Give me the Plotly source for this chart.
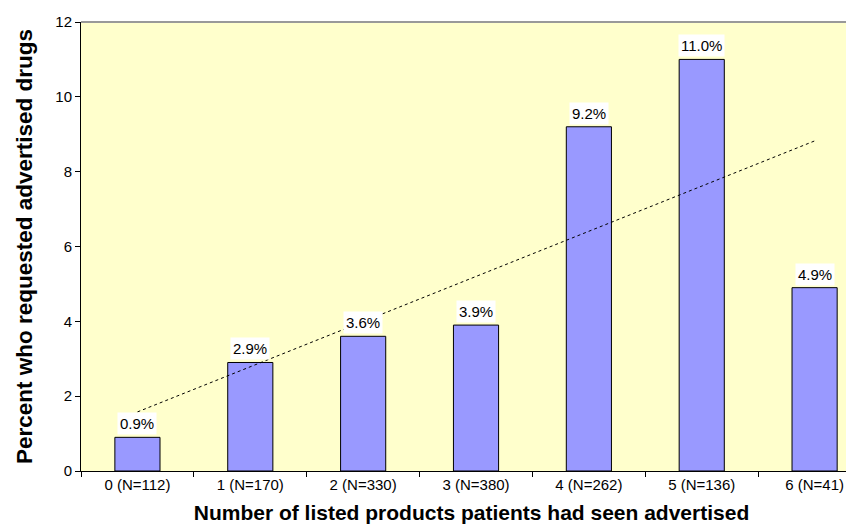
import numpy as np
import plotly.graph_objects as go

categories = ["0 (N=112)", "1 (N=170)", "2 (N=330)", "3 (N=380)", "4 (N=262)", "5 (N=136)", "6 (N=41)"]
values = [0.9, 2.9, 3.6, 3.9, 9.2, 11.0, 4.9]
labels = ["0.9%", "2.9%", "3.6%", "3.9%", "9.2%", "11.0%", "4.9%"]
y_ticks = [0, 2, 4, 6, 8, 10, 12]

# linear trendline fitted to the data
xi = np.arange(len(values))
slope, intercept = np.polyfit(xi, values, 1)
trend = intercept + slope * xi

fig = go.Figure()
fig.add_trace(go.Bar(
    x=categories, y=values, width=0.4,
    marker=dict(color="#9999FF", line=dict(color="black", width=1)),
    hoverinfo="skip",
))
fig.add_trace(go.Scatter(
    x=[categories[0], categories[-1]], y=[trend[0], trend[-1]],
    mode="lines", line=dict(color="black", width=1, dash="dot"),
    hoverinfo="skip",
))
for c, v, t in zip(categories, values, labels):
    fig.add_annotation(x=c, y=v, text=t, showarrow=False, yanchor="bottom",
                       yshift=2, bgcolor="white", borderpad=2,
                       font=dict(family="Liberation Sans, Arial", size=15, color="black"))

fig.add_shape(type="line", xref="paper", yref="paper", x0=0, x1=1, y0=1, y1=1,
              line=dict(color="#999999", width=2))

fig.update_layout(
    width=854, height=529,
    margin=dict(l=73, r=0, t=14, b=66),
    paper_bgcolor="white", plot_bgcolor="#FFFFCC",
    showlegend=False,
    font=dict(family="Liberation Sans, Arial", color="black"),
    xaxis=dict(
        type="category", range=[-0.5, 6.42], tickson="boundaries",
        ticks="outside", ticklen=5, tickcolor="black", automargin=False,
        showline=True, linecolor="black", linewidth=1,
        showgrid=False, tickfont=dict(size=15),
        title=dict(text="<b>Number of listed products patients had seen advertised</b>",
                   font=dict(size=21), standoff=13),
    ),
    yaxis=dict(
        range=[0, 12], tickvals=y_ticks, ticks="outside", ticklen=5, tickcolor="black",
        showline=True, linecolor="black", linewidth=1, showgrid=False, zeroline=False,
        tickfont=dict(size=15), automargin=False,
        title=dict(text="<b>Percent who requested advertised drugs</b>",
                   font=dict(size=22.5), standoff=16),
    ),
)
fig.write_html("out.html")
